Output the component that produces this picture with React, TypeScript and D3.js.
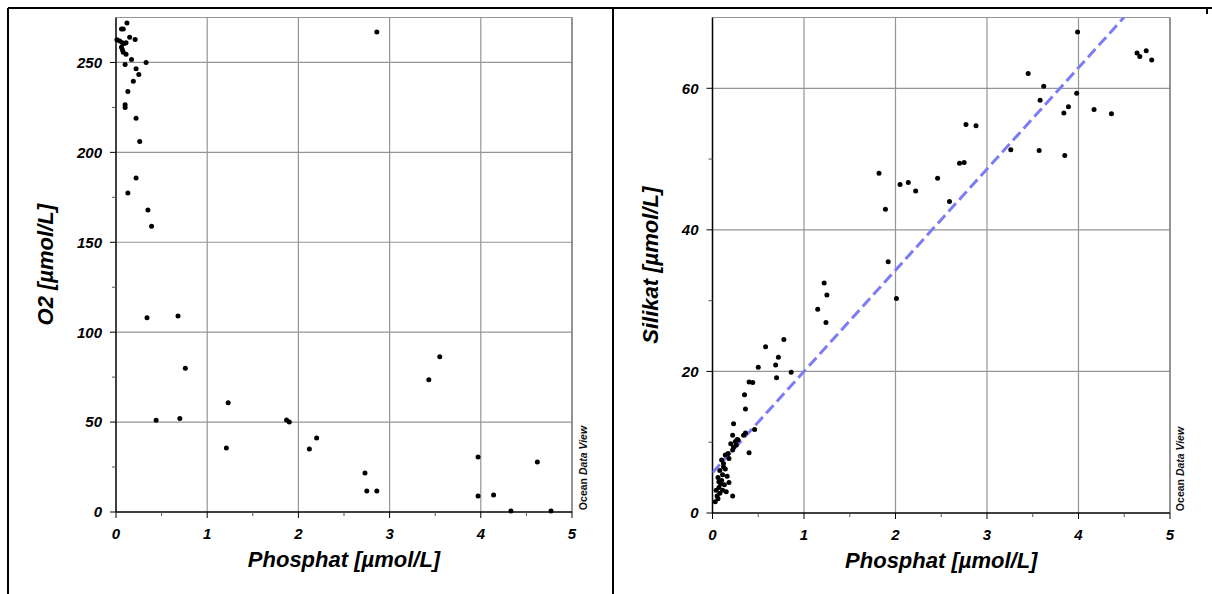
import React from "react";
import * as d3 from "d3";

// ---- Data ----
const phosO2 = [0.12,0.06,0.08,0.01,0.04,0.07,0.09,0.11,0.15,0.21,0.06,0.07,0.08,0.11,0.17,0.33,0.10,0.22,0.25,0.19,0.13,0.10,0.10,0.22,0.26,0.22,0.13,0.35,0.39,0.34,0.68,0.76,0.44,0.70,1.23,1.21,1.87,1.90,2.12,2.20,2.86,2.73,2.75,2.86,3.43,3.55,3.97,3.97,4.14,4.33,4.62,4.77];
const o2 = [272,268.6,268.6,262.6,261.9,261,260.5,261,264,262.8,258.5,257,255.7,254.5,251.7,250,248.9,246.5,243.3,239.6,233.9,225,226.5,219,206,185.8,177.4,168,158.9,108,109,80,51,52,60.7,35.6,51.2,50.1,35,41.2,267,21.7,11.7,11.7,73.5,86.3,30.6,8.9,9.5,0.5,27.8,0.5];

const phosSi = [3.99,4.64,4.67,4.74,4.80,3.45,3.62,3.98,3.58,3.89,3.84,4.17,4.36,2.77,2.88,3.26,3.57,3.85,1.82,1.89,2.05,2.14,2.22,2.46,2.59,2.70,2.75,1.92,2.01,1.22,1.25,1.15,1.24,0.78,0.58,0.72,0.69,0.50,0.86,0.70,0.40,0.44,0.35,0.36,0.23,0.22,0.34,0.36,0.46,0.27,
  0.03,0.06,0.05,0.08,0.11,0.15,0.22,0.07,0.09,0.13,0.18,0.06,0.11,0.16,0.08,0.14,0.12,0.10,0.18,0.14,0.17,0.22,0.23,0.26,0.25,0.28,0.40,0.04,0.10,0.07,0.12,0.20];
const silikat = [67.96,65.0,64.5,65.3,64.0,62.1,60.3,59.3,58.3,57.4,56.5,57.0,56.4,54.9,54.7,51.3,51.2,50.5,48.0,42.9,46.4,46.7,45.5,47.3,44.0,49.4,49.5,35.5,30.3,32.5,30.8,28.8,26.9,24.5,23.5,22.0,20.9,20.6,19.9,19.1,18.5,18.45,16.7,14.7,12.6,11.0,11.0,11.3,11.8,10.4,
  1.6,2.0,2.4,2.8,3.2,3.0,2.4,3.6,4.1,4.0,4.3,5.0,5.4,5.2,6.0,6.2,7.0,7.5,7.7,8.2,8.4,8.9,9.3,9.6,10.1,10.3,8.5,3.2,4.6,4.4,6.5,9.8];

const phosTicks = [0, 1, 2, 3, 4, 5];
const phosMinor = [0.5, 1.5, 2.5, 3.5, 4.5];
const o2Ticks = [0, 50, 100, 150, 200, 250];
const o2Minor = [25, 75, 125, 175, 225, 275];
const siTicks = [0, 20, 40, 60];
const siMinor = [10, 30, 50, 70];

const regIntercept = 5.7;
const regSlope = 14.3;

const FONT = "'Liberation Sans', Arial, sans-serif";

type PanelProps = {
  id: string;
  left: number; right: number; top: number; bottom: number;
  yMax: number;
  yTicks: number[]; yMinor: number[];
  xs: number[]; ys: number[];
  yLabel: string; yLabelX: number;
  odvX: number;
  reg?: { a: number; b: number };
};

function Panel(p: PanelProps) {
  const x = d3.scaleLinear().domain([0, 5]).range([p.left, p.right]);
  const y = d3.scaleLinear().domain([0, p.yMax]).range([p.bottom, p.top]);
  const grid = "#959595";
  let regPath: string | null = null;
  if (p.reg) {
    const r = p.reg;
    const xEnd = Math.min(5, (p.yMax - r.a) / r.b);
    const line = d3.line<number>().x((d) => x(d)).y((d) => y(r.a + r.b * d));
    regPath = line([0, xEnd]);
  }
  const midY = (p.top + p.bottom) / 2;
  return (
    <g>
      <defs>
        <clipPath id={`clip-${p.id}`}>
          <rect x={p.left} y={p.top} width={p.right - p.left} height={p.bottom - p.top} />
        </clipPath>
      </defs>
      {phosTicks.slice(1).map((t) => (
        <line key={`gx${t}`} x1={x(t)} x2={x(t)} y1={p.top} y2={p.bottom} stroke={grid} strokeWidth={1.2} />
      ))}
      {p.yTicks.slice(1).map((t) => (
        <line key={`gy${t}`} x1={p.left} x2={p.right} y1={y(t)} y2={y(t)} stroke={grid} strokeWidth={1.2} />
      ))}
      <line x1={p.left} x2={p.right} y1={p.top} y2={p.top} stroke={grid} strokeWidth={1.2} />
      <line x1={p.right} x2={p.right} y1={p.top} y2={p.bottom} stroke="#777" strokeWidth={1.2} />
      <line x1={p.left} x2={p.left} y1={p.top} y2={p.bottom} stroke="#000" strokeWidth={1.5} />
      <line x1={p.left} x2={p.right} y1={p.bottom} y2={p.bottom} stroke="#000" strokeWidth={1.5} />
      {p.yTicks.map((t) => (
        <line key={`ty${t}`} x1={p.left - 6} x2={p.left} y1={y(t)} y2={y(t)} stroke="#000" strokeWidth={1} />
      ))}
      {p.yMinor.filter((t) => t < p.yMax).map((t) => (
        <line key={`my${t}`} x1={p.left - 4} x2={p.left} y1={y(t)} y2={y(t)} stroke="#555" strokeWidth={1} />
      ))}
      {phosTicks.map((t) => (
        <line key={`tx${t}`} x1={x(t)} x2={x(t)} y1={p.bottom} y2={p.bottom + 6} stroke="#000" strokeWidth={1} />
      ))}
      {phosMinor.map((t) => (
        <line key={`mx${t}`} x1={x(t)} x2={x(t)} y1={p.bottom} y2={p.bottom + 4} stroke="#555" strokeWidth={1} />
      ))}
      {p.yTicks.map((t) => (
        <text key={`ly${t}`} x={p.left - 14} y={y(t)} dy="0.36em" textAnchor="end"
          fontFamily={FONT} fontWeight="bold" fontStyle="italic" fontSize={15} fill="#000">{t}</text>
      ))}
      {phosTicks.map((t) => (
        <text key={`lx${t}`} x={x(t)} y={p.bottom + 27} textAnchor="middle"
          fontFamily={FONT} fontWeight="bold" fontStyle="italic" fontSize={15} fill="#000">{t}</text>
      ))}
      <text x={(p.left + p.right) / 2} y={p.bottom + 55} textAnchor="middle"
        fontFamily={FONT} fontWeight="bold" fontStyle="italic" fontSize={22} fill="#000">Phosphat [µmol/L]</text>
      <text transform={`translate(${p.yLabelX},${midY}) rotate(-90)`} textAnchor="middle" dy="0.36em"
        fontFamily={FONT} fontWeight="bold" fontStyle="italic" fontSize={22} fill="#000">{p.yLabel}</text>
      <text transform={`translate(${p.odvX},${p.bottom - 44}) rotate(-90)`} textAnchor="middle" dy="0.36em"
        fontFamily={FONT} fontWeight="bold" fontSize={10.5} fill="#111">
        Ocean <tspan fontStyle="italic">Data View</tspan>
      </text>
      {regPath && (
        <path d={regPath} clipPath={`url(#clip-${p.id})`} fill="none" stroke="#7c7cf4"
          strokeWidth={3} strokeDasharray="11 5" />
      )}
      {p.xs.map((v, i) => (
        <circle key={`pt${i}`} cx={x(v)} cy={y(p.ys[i])} r={2.5} fill="#000" />
      ))}
    </g>
  );
}

export default function App() {
  return (
    <svg width={1212} height={594} viewBox="0 0 1212 594"
      style={{ position: "absolute", left: 0, top: 0, display: "block", background: "#fff" }}>
      <rect x={0} y={0} width={1212} height={594} fill="#fff" />
      <line x1={8} x2={1212} y1={8} y2={8} stroke="#000" strokeWidth={2} />
      <line x1={8} x2={8} y1={8} y2={594} stroke="#000" strokeWidth={2} />
      <line x1={613} x2={613} y1={8} y2={594} stroke="#000" strokeWidth={2} />
      <line x1={1207} x2={1207} y1={8} y2={14} stroke="#000" strokeWidth={2} />
      <Panel id="o2" left={116} right={572} top={17.5} bottom={512} yMax={275}
        yTicks={o2Ticks} yMinor={o2Minor} xs={phosO2} ys={o2}
        yLabel="O2 [µmol/L]" yLabelX={45} odvX={583} />
      <Panel id="si" left={712.5} right={1170} top={17.5} bottom={513} yMax={70}
        yTicks={siTicks} yMinor={siMinor} xs={phosSi} ys={silikat}
        yLabel="Silikat [µmol/L]" yLabelX={650} odvX={1180}
        reg={{ a: regIntercept, b: regSlope }} />
    </svg>
  );
}
